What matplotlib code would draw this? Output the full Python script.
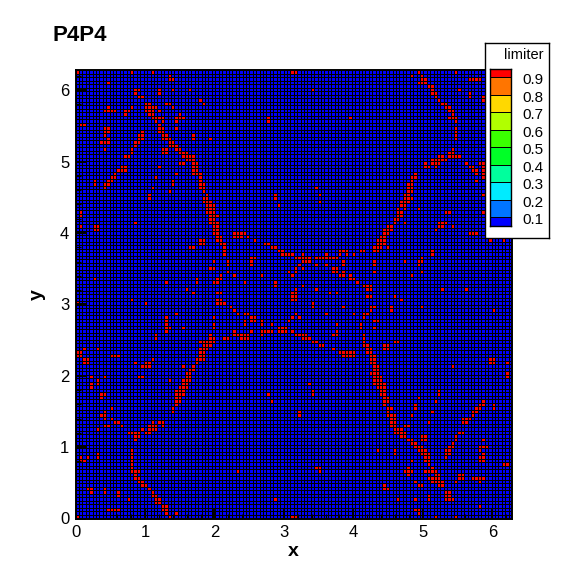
import numpy as np
import matplotlib
matplotlib.use('Agg')
import matplotlib.pyplot as plt
from matplotlib.colors import ListedColormap, BoundaryNorm
from matplotlib.ticker import MultipleLocator

plt.rcParams['font.family'] = ['Liberation Sans', 'DejaVu Sans']

n_cells = 128
domain_end = 6.283

legend_levels = [0.1, 0.2, 0.3, 0.4, 0.5, 0.6, 0.7, 0.8, 0.9]
legend_edges = [0.047, 0.1, 0.2, 0.3, 0.4, 0.5, 0.6, 0.7, 0.8, 0.9, 0.948]
legend_colors = ['#0000ff', '#0075ff', '#00ebff', '#00ff9d', '#00ff27',
                 '#3aff00', '#b1ff00', '#ffd800', '#ff7500', '#ff0000']

# cells where the limiter is active, one list of columns per row, top row first
limited_cols = [
    [0, 16, 22, 63, 64, 100, 111],
    [27, 98, 101],
    [27, 28, 101, 102, 115, 116, 117, 118],
    [9, 100, 101, 102],
    [103, 104],
    [17, 18, 24, 28, 33, 69, 104, 112],
    [17, 24, 104, 105, 115],
    [18, 19, 105, 115, 119],
    [36, 106, 119],
    [20, 21, 26, 27, 37, 107, 108],
    [9, 16, 20, 21, 22, 23, 28, 108, 109],
    [8, 9, 10, 11, 14, 15, 20, 21, 22, 24, 109, 110],
    [14, 21, 22, 30, 110],
    [22, 23, 24, 25, 29, 30, 31, 56, 80, 109, 110, 111],
    [23, 25, 29, 56, 111],
    [1, 2, 24],
    [8, 9, 24, 25, 29, 111],
    [8, 9, 19, 24, 25, 111],
    [8, 18, 19, 25, 26, 34, 111],
    [9, 18, 19, 25, 26, 27, 34, 39, 111],
    [7, 8, 9, 17, 18, 27, 28],
    [17, 27, 28, 29],
    [8, 16, 25, 26, 29, 30, 110],
    [16, 25, 26, 30, 31, 32, 109, 110],
    [14, 15, 31, 32, 33, 34, 106, 107, 109, 110, 111, 112],
    [32, 33, 34, 104, 105, 106, 107, 108],
    [30, 31, 34, 35, 102, 104, 105, 106, 114, 118, 119],
    [13, 14, 24, 34, 35, 102, 103, 105, 115, 116, 119],
    [12, 13, 14, 34, 35, 116, 117, 119],
    [11, 29, 34, 35, 36, 99, 117, 119],
    [10, 11, 23, 36, 98, 99, 119],
    [5, 9, 10, 28, 36, 98, 117],
    [5, 8, 9, 28, 36, 37, 97, 98],
    [8, 22, 36, 37, 70, 97, 98],
    [27, 37, 97, 98],
    [21, 38, 58, 71, 96, 97, 119],
    [21, 37, 38, 58, 96, 97, 98],
    [37, 38, 39, 71, 95, 96, 97],
    [38, 39, 40, 59, 95, 96],
    [38, 39, 40, 94, 96, 100],
    [1, 38, 39, 40, 94, 95, 108, 109, 119],
    [1, 39, 40, 41, 94, 95],
    [39, 40, 93, 94],
    [17, 39, 40, 41, 93, 96, 106, 107, 108],
    [1, 5, 6, 40, 41, 91, 92, 106, 107, 110],
    [5, 6, 40, 41, 90, 91, 92, 105],
    [40, 41, 46, 47, 48, 49, 90, 91, 115, 116, 117],
    [41, 42, 46, 47, 48, 50, 89, 90],
    [36, 37, 41, 42, 52, 88, 89, 90, 121, 125],
    [36, 37, 42, 43, 55, 56, 88, 89, 90],
    [33, 34, 43, 57, 58, 87, 88, 89, 91],
    [43, 59, 60, 77, 78, 79, 83, 84, 87, 88, 104],
    [43, 60, 61, 62, 63, 66, 73, 77, 79, 81, 104],
    [51, 52, 64, 65, 66, 67, 68, 70, 71, 72, 73, 74, 75, 76, 101],
    [40, 44, 51, 66, 67, 68, 78, 87, 96, 100, 101],
    [44, 51, 65, 70, 73, 78, 87, 100],
    [39, 40, 64, 66, 75, 76],
    [44, 62, 64, 75, 76, 78, 87, 101],
    [42, 46, 54, 63, 77, 78, 80, 98],
    [5, 35, 41, 42, 80, 81],
    [26, 35, 40, 41, 49, 58, 82],
    [58, 66, 84, 85, 86],
    [32, 64, 70, 85, 86, 107, 114],
    [34, 41, 42, 63, 64, 74, 76],
    [63, 64, 85, 86, 93],
    [16, 41, 42, 63, 64, 95],
    [0, 20, 41, 42, 43, 69],
    [45, 69, 78, 86, 87, 92, 101],
    [46, 86, 92, 122],
    [29, 47, 49, 50, 64, 73, 81, 84, 85],
    [26, 40, 51, 52, 63, 65, 84],
    [26, 49, 51, 52, 54, 62, 87, 88],
    [26, 40, 49, 54, 57, 76, 83],
    [26, 27, 31, 40, 59, 60, 61, 83, 87],
    [26, 46, 51, 54, 55, 56, 57, 59, 60, 61, 63, 76],
    [23, 39, 46, 47, 48, 49, 50, 54, 64, 65, 66, 67, 75, 76, 84],
    [23, 39, 40, 43, 44, 48, 49, 50, 66, 67, 68, 84],
    [36, 37, 38, 39, 40, 69, 70, 84, 93, 94],
    [37, 38, 39, 71, 72, 84, 85, 90, 91],
    [2, 6, 36, 37, 38, 75, 85, 86, 90, 91],
    [0, 1, 36, 37, 77, 78, 79, 80, 81, 85, 86],
    [0, 1, 10, 11, 12, 36, 37, 78, 79, 80, 81, 86, 87],
    [2, 3, 22, 35, 36, 37, 86, 87, 121, 122],
    [2, 3, 17, 20, 21, 35, 86, 87, 121, 122, 126],
    [19, 20, 21, 31, 34, 87, 88, 110],
    [33, 34, 87, 88],
    [32, 33, 86, 87, 88, 126],
    [4, 8, 18, 19, 32, 33, 87, 88, 89, 126],
    [6, 27, 31, 32, 33, 87, 88, 89],
    [4, 6, 31, 32, 68, 87, 88, 89, 90],
    [4, 30, 31, 32, 88, 89, 90],
    [29, 30, 31, 69, 89, 90, 106],
    [7, 8, 29, 30, 31, 56, 69, 89, 90, 106],
    [7, 29, 30, 90, 91, 100],
    [29, 30, 57, 90, 91, 105, 119],
    [29, 90, 99, 118, 119, 122],
    [10, 28, 91, 92, 99, 117, 118, 122],
    [8, 28, 65, 91, 104, 116, 117],
    [7, 8, 65, 91, 92, 93, 98, 116],
    [8, 10, 92, 93, 113, 114, 115],
    [11, 12, 22, 24, 25, 92, 93, 103, 113, 114],
    [8, 9, 13, 21, 22, 23, 25, 92, 93, 96, 97],
    [6, 19, 21, 22, 23, 93, 94, 95],
    [15, 16, 17, 18, 20, 21, 93, 94, 95, 96, 112, 113],
    [17, 18, 95, 96, 101, 102, 111],
    [17, 97, 98, 101, 102, 111, 119],
    [98, 99, 110],
    [99, 100, 101, 109, 110, 118, 119, 120],
    [16, 88, 93, 100, 101, 102, 108, 109, 118],
    [6, 16, 93, 101, 102, 103, 108, 109, 119],
    [1, 3, 6, 16, 102, 103, 108, 118, 119],
    [1, 2, 16, 98, 102, 103, 118, 119],
    [16, 103, 125, 126],
    [16, 70, 71, 97, 104],
    [16, 17, 18, 47, 71, 96, 97, 98, 102, 103, 104, 105],
    [17, 97, 105, 106, 112, 113],
    [17, 18, 103, 104, 105, 106, 112, 113, 116, 117, 118, 119],
    [18, 19, 99, 104, 105, 106, 107, 111, 118],
    [19, 20, 90, 100, 101, 106, 107],
    [3, 4, 8, 21, 90, 91],
    [4, 8, 12, 22, 108, 109],
    [12, 22, 23, 103, 108, 109],
    [15, 23, 24, 58, 94, 99, 103, 108, 109, 110],
    [23, 24],
    [25, 26, 118],
    [9, 10, 11, 12, 25, 26, 99, 100],
    [26, 29, 100],
    [0, 27, 63, 64, 105, 111],
]

limiter = np.full((n_cells, n_cells), 0.05)
for row, cols in enumerate(limited_cols):
    limiter[n_cells - 1 - row, cols] = 0.94

cmap = ListedColormap(legend_colors)
norm = BoundaryNorm(legend_edges, cmap.N)
px = 1 / 583

fig = plt.figure(figsize=(5.83, 5.83), dpi=100)
ax = fig.add_axes([75.5 * px, 1 - 518.5 * px, 436.5 * px, 448.5 * px])

edges = np.linspace(0, domain_end, n_cells + 1)
ax.pcolormesh(edges, edges, limiter, cmap=cmap, norm=norm, antialiased=False)
# mesh lines on top, one pixel wide
ax.vlines(edges, 0, domain_end, colors='black', linewidth=0.7, antialiased=False, snap=True)
ax.hlines(edges, 0, domain_end, colors='black', linewidth=0.7, antialiased=False, snap=True)

ax.set_xlim(0, domain_end)
ax.set_ylim(0, domain_end)
ax.xaxis.set_major_locator(MultipleLocator(1))
ax.yaxis.set_major_locator(MultipleLocator(1))
ax.xaxis.set_minor_locator(MultipleLocator(0.2))
ax.yaxis.set_minor_locator(MultipleLocator(0.2))
ax.tick_params(which='major', direction='in', length=7.2, width=1.4, labelsize=12, pad=4.5)
ax.tick_params(which='minor', direction='in', length=3.6, width=0.8)
for s in ax.spines.values():
    s.set_linewidth(1.4)
ax.set_xlabel('x', fontsize=14, fontweight='bold', labelpad=2)
ax.set_ylabel('y', fontsize=14, fontweight='bold', labelpad=10)

fig.text(52 * px, 1 - 41 * px, 'P4P4', fontsize=16, fontweight='bold', ha='left', va='baseline')

# contour legend box
box = fig.add_axes([485 * px, 1 - 238 * px, 64 * px, 195 * px])
box.set_xticks([])
box.set_yticks([])
for s in box.spines.values():
    s.set_linewidth(1.0)
box.text(0.92, 0.94, 'limiter', transform=box.transAxes, fontsize=10.5, ha='right', va='center')
box.set_zorder(3)

cb = fig.add_axes([490 * px, 1 - 226.5 * px, 21 * px, 157.5 * px])
cb.pcolormesh([0, 1], legend_edges, np.array(legend_edges[:-1])[:, None], cmap=cmap, norm=norm,
              antialiased=False)
cb.hlines(legend_edges, 0, 1, colors='black', linewidth=0.7, antialiased=False, snap=True)
cb.set_xlim(0, 1)
cb.set_ylim(legend_edges[0], legend_edges[-1])
cb.set_xticks([])
cb.set_yticks([])
for level in legend_levels:
    cb.annotate(f'{level:.1f}', (1, level), xycoords=('axes fraction', 'data'), xytext=(8.4, -2.2),
                textcoords='offset points', fontsize=11, ha='left', va='center')
for s in cb.spines.values():
    s.set_linewidth(1.0)
cb.set_zorder(4)

fig.savefig('out.png', dpi=100)
